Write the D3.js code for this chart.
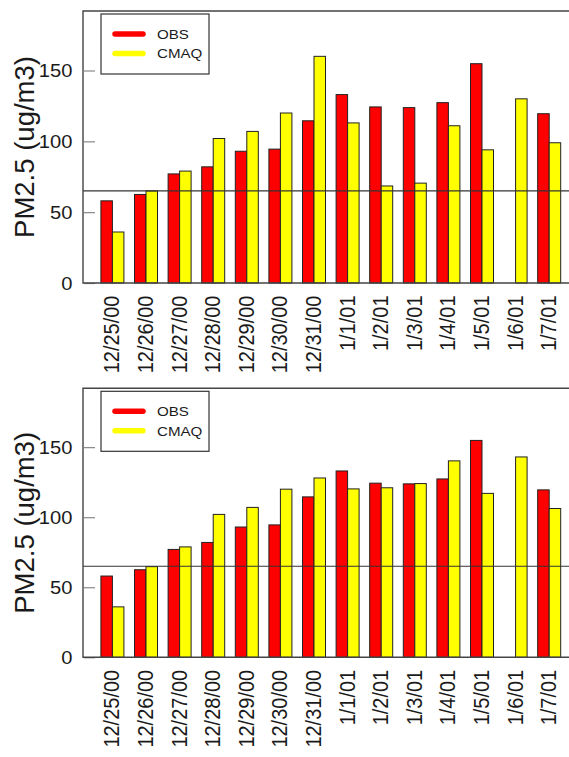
<!DOCTYPE html>
<html><head><meta charset="utf-8">
<script src="https://cdn.jsdelivr.net/npm/d3@7"></script>
<style>body{margin:0;background:#fff} svg{display:block}</style>
</head><body><svg id="c" width="569" height="757"></svg>
<script>
const categories = ["12/25/00","12/26/00","12/27/00","12/28/00","12/29/00","12/30/00","12/31/00","1/1/01","1/2/01","1/3/01","1/4/01","1/5/01","1/6/01","1/7/01"];
const obsValues = [58, 62.5, 77, 82, 93, 94.5, 114.5, 133, 124.3, 123.8, 127.3, 154.8, null, 119.5];
const cmaqTopValues = [36, 65, 79, 102, 107, 120, 160, 113, 68.5, 70.5, 111, 94, 130, 99];
const cmaqBottomValues = [36, 64.7, 78.8, 102, 107, 120, 128, 120.2, 121, 124, 140.2, 117, 143, 106.2];
const seriesNames = ["OBS", "CMAQ"];
const seriesColors = ["#ff0000", "#ffff00"];
const yTicks = [0, 50, 100, 150];
const yMax = 192;
const standardLevel = 65;
const yTitle = "PM2.5 (ug/m3)";

const svg = d3.select("#c");
const FONT = "'Liberation Sans', Arial, Helvetica, sans-serif";
const left = 83, right = 578.6;
const SX = 1.12;

const x = d3.scaleBand().domain(categories).range([left, right]).paddingInner(0.3155).paddingOuter(0.533);
const xs = d3.scaleBand().domain(seriesNames).range([0, x.bandwidth()]);
const color = d3.scaleOrdinal().domain(seriesNames).range(seriesColors);

const panels = [
  {cmaq: cmaqTopValues, top: 11, bottom: 283},
  {cmaq: cmaqBottomValues, top: 388.3, bottom: 657.3}
];

panels.forEach(p => {
  const g = svg.append("g");
  const y = d3.scaleLinear().domain([0, yMax]).range([p.bottom, p.top]);

  const rows = categories.map((c, i) => ({cat: c, vals: [
    {s: "OBS", v: obsValues[i]}, {s: "CMAQ", v: p.cmaq[i]}]}));

  // y axis ticks (inward) and labels
  const ya = g.append("g").attr("transform", `translate(${left},0)`)
    .call(d3.axisLeft(y).tickValues(yTicks).tickSize(-12).tickPadding(10));
  ya.select(".domain").remove();
  ya.selectAll(".tick line").attr("stroke", "#888").attr("x1", 1).attr("stroke-width", 1.2);
  ya.selectAll(".tick text")
    .attr("x", 0).attr("dy", null)
    .attr("transform", `translate(-10.5,0) scale(${SX},1)`)
    .attr("dominant-baseline", "central")
    .style("font-family", FONT).style("font-size", "18px").attr("fill", "#1a1a1a");

  // bars
  const grp = g.append("g").selectAll("g").data(rows).join("g")
    .attr("transform", d => `translate(${x(d.cat)},0)`);
  grp.selectAll("rect").data(d => d.vals.filter(v => v.v != null)).join("rect")
    .attr("x", d => xs(d.s)).attr("width", xs.bandwidth())
    .attr("y", d => y(d.v)).attr("height", d => y(0) - y(d.v))
    .attr("fill", d => color(d.s)).attr("stroke", "#222").attr("stroke-width", 1);

  // standard line
  g.append("line").attr("x1", left).attr("x2", right)
    .attr("y1", y(standardLevel)).attr("y2", y(standardLevel))
    .attr("stroke", "#333").attr("stroke-width", 1.2);

  // box
  g.append("path")
    .attr("d", `M${right},${p.top}H${left}V${p.bottom}H${right}`)
    .attr("fill", "none").attr("stroke", "#444").attr("stroke-width", 1.4);

  // x axis labels
  const xa = g.append("g").attr("transform", `translate(0,${p.bottom})`)
    .call(d3.axisBottom(x).tickSize(0).tickPadding(0));
  xa.select(".domain").remove();
  xa.selectAll(".tick text")
    .attr("x", 0).attr("y", 0).attr("dy", "0.36em")
    .attr("transform", `translate(-1,12.5) scale(${SX},1) rotate(-90)`)
    .attr("text-anchor", "end")
    .style("font-family", FONT).style("font-size", "20px").attr("fill", "#1a1a1a");

  // y title
  g.append("text")
    .attr("transform", `translate(33.5,${(p.top + p.bottom) / 2}) rotate(-90)`)
    .attr("text-anchor", "middle")
    .style("font-family", FONT).style("font-size", "27.5px").attr("fill", "#1a1a1a")
    .text(yTitle);

  // legend
  const lg = g.append("g").attr("transform", `translate(101,${p.top + 3})`);
  lg.append("rect").attr("x", 0).attr("y", 0).attr("width", 108).attr("height", 60)
    .attr("fill", "#fff").attr("stroke", "#333").attr("stroke-width", 1.2);
  seriesNames.forEach((s, i) => {
    const yy = 20 + i * 19.5;
    lg.append("line").attr("x1", 14).attr("x2", 42).attr("y1", yy).attr("y2", yy)
      .attr("stroke", color(s)).attr("stroke-width", 5.5).attr("stroke-linecap", "round");
    lg.append("text").attr("transform", `translate(56,${yy}) scale(${SX},1)`)
      .attr("dy", "0.36em")
      .style("font-family", FONT).style("font-size", "13.5px").attr("fill", "#1a1a1a")
      .text(s);
  });
});
</script></body></html>
